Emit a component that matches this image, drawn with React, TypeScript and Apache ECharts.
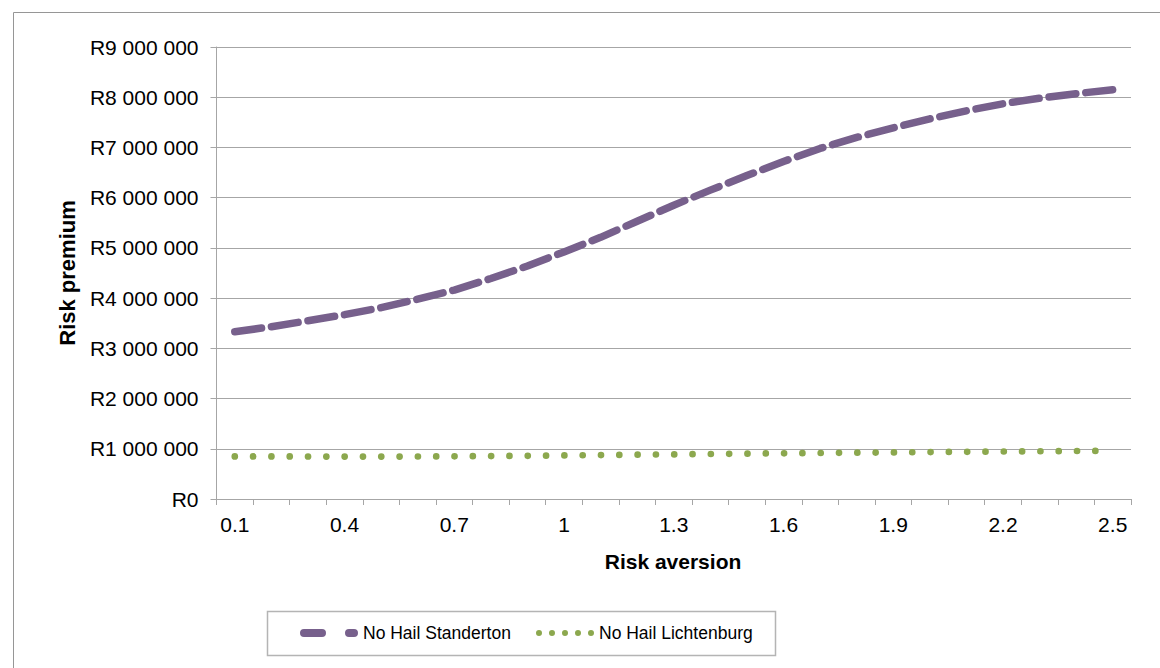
import React, { useEffect, useRef } from "react";
import * as echarts from "echarts";

const categories = ["0.1","0.2","0.3","0.4","0.5","0.6","0.7","0.8","0.9","1","1.1","1.2","1.3","1.4","1.5","1.6","1.7","1.8","1.9","2","2.1","2.2","2.3","2.4","2.5"];

const standerton = [3330000,3430000,3550000,3670000,3810000,3980000,4160000,4390000,4640000,4920000,5210000,5530000,5850000,6150000,6440000,6720000,6980000,7200000,7390000,7570000,7730000,7870000,7980000,8070000,8150000];

const lichtenburg = [848000,848000,846000,845000,845000,846000,850000,855000,860000,867000,875000,882000,889000,896000,903000,910000,916000,922000,928000,934000,940000,946000,951000,956000,960000];

const seriesNames = ["No Hail Standerton", "No Hail Lichtenburg"];
const yTitle = "Risk premium";
const xTitle = "Risk aversion";

const PURPLE = "#77608c";
const GREEN = "#8ca84e";
const GRIDC = "#a6a6a6";
const FONT = "'Liberation Sans', Arial, sans-serif";

function fmtRand(v: number): string {
  const s = Math.round(v).toString();
  return "R" + s.replace(/\B(?=(\d{3})+(?!\d))/g, " ");
}

const dashIcon = "path://M4 0 H22 A4 4 0 0 1 22 8 H4 A4 4 0 0 1 4 0 Z M49 0 H54 A4 4 0 0 1 54 8 H49 A4 4 0 0 1 49 0 Z";
const dotIcon = "path://M0 3 A3 3 0 1 0 6 3 A3 3 0 1 0 0 3 Z M13 3 A3 3 0 1 0 19 3 A3 3 0 1 0 13 3 Z M26 3 A3 3 0 1 0 32 3 A3 3 0 1 0 26 3 Z M39 3 A3 3 0 1 0 45 3 A3 3 0 1 0 39 3 Z M52 3 A3 3 0 1 0 58 3 A3 3 0 1 0 52 3 Z";

export default function App() {
  const ref = useRef<HTMLDivElement>(null);
  useEffect(() => {
    if (!ref.current) return;
    const chart = echarts.init(ref.current, undefined, { renderer: "svg" });
    const legendCommon = {
      orient: "horizontal",
      top: 624,
      padding: 0,
      itemGap: 0,
      selectedMode: false,
      textStyle: { fontFamily: FONT, fontSize: 17.5, color: "#000", lineHeight: 18 },
    };
    chart.setOption({
      animation: false,
      backgroundColor: "#ffffff",
      grid: { left: 216.5, top: 47, right: 29, bottom: 169, containLabel: false },
      xAxis: {
        type: "category",
        data: categories,
        boundaryGap: true,
        axisLine: { show: true, lineStyle: { color: GRIDC, width: 1 } },
        axisTick: { show: true, interval: 0, length: 6, alignWithLabel: false, lineStyle: { color: GRIDC } },
        axisLabel: { interval: 2, margin: 15, fontFamily: FONT, fontSize: 21, color: "#000" },
        splitLine: { show: false },
      },
      yAxis: {
        type: "value",
        min: 0,
        max: 9000000,
        interval: 1000000,
        axisLine: { show: true, lineStyle: { color: GRIDC, width: 1 } },
        axisTick: { show: true, length: 6, lineStyle: { color: GRIDC } },
        axisLabel: { margin: 18, fontFamily: FONT, fontSize: 21, color: "#000", formatter: (v: number) => fmtRand(v) },
        splitLine: { show: true, lineStyle: { color: GRIDC, width: 1 } },
      },
      legend: [
        {
          ...legendCommon,
          left: 300,
          itemWidth: 58,
          itemHeight: 8,
          data: [{ name: seriesNames[0], icon: dashIcon, itemStyle: { color: PURPLE, borderWidth: 0 } }],
        },
        {
          ...legendCommon,
          left: 536,
          itemWidth: 58,
          itemHeight: 6,
          data: [{ name: seriesNames[1], icon: dotIcon, itemStyle: { color: GREEN, borderWidth: 0 } }],
        },
      ],
      graphic: [
        {
          type: "rect",
          silent: true,
          shape: { x: 13.5, y: 12.5, width: 1300, height: 800 },
          style: { fill: "none", stroke: "#969696", lineWidth: 1 },
          z: -10,
        },
        {
          type: "rect",
          silent: true,
          shape: { x: 267.5, y: 611.5, width: 508, height: 44 },
          style: { fill: "none", stroke: "#b4b4b4", lineWidth: 1.5 },
        },
        {
          type: "text",
          silent: true,
          x: 673,
          y: 561,
          style: { text: xTitle, fontFamily: FONT, fontSize: 21, fontWeight: "bold", fill: "#000", textAlign: "center", textVerticalAlign: "middle" },
        },
        {
          type: "text",
          silent: true,
          x: 67,
          y: 273,
          rotation: Math.PI / 2,
          style: { text: yTitle, fontFamily: FONT, fontSize: 22, fontWeight: "bold", fill: "#000", textAlign: "center", textVerticalAlign: "middle" },
        },
      ],
      series: [
        {
          name: seriesNames[0],
          type: "line",
          data: standerton,
          showSymbol: false,
          symbol: "none",
          smooth: false,
          color: PURPLE,
          lineStyle: { color: PURPLE, width: 7.5, type: [27, 10], cap: "round", join: "round" },
          z: 3,
        },
        {
          name: seriesNames[1],
          type: "line",
          data: lichtenburg,
          showSymbol: false,
          symbol: "none",
          smooth: false,
          color: GREEN,
          lineStyle: { color: GREEN, width: 6.7, type: [0.01, 18.3], cap: "round", join: "round" },
          z: 3,
        },
      ],
    });
    return () => chart.dispose();
  }, []);
  return <div ref={ref} style={{ position: "absolute", left: 0, top: 0, width: 1160, height: 668 }} />;
}
